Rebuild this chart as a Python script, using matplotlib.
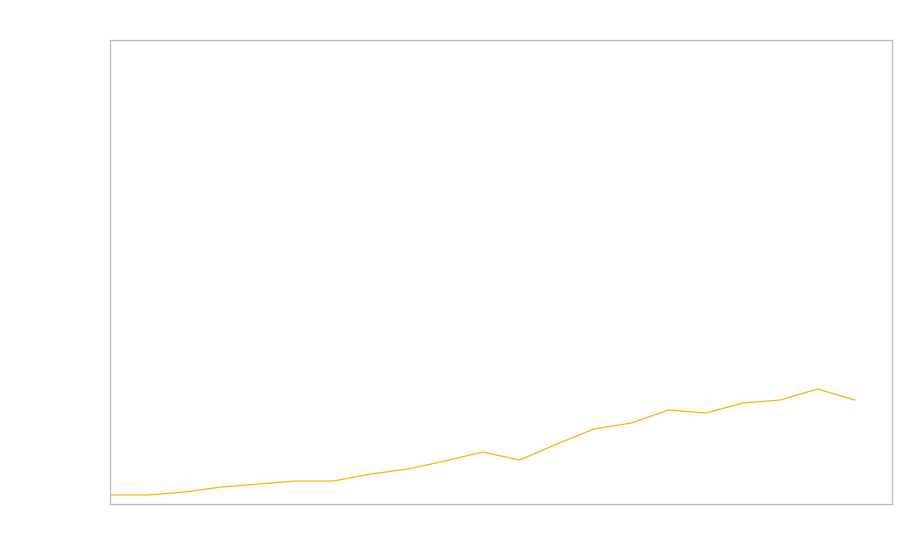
import matplotlib
matplotlib.use("Agg")
import matplotlib.pyplot as plt

# one series, no labels shown on the chart
periods = list(range(21))
values = [9, 9, 12, 17, 20, 23, 23, 30, 35, 43, 52, 44, 60, 75, 81, 94, 91, 101, 104, 115, 104]

fig = plt.figure(figsize=(9, 5.6), dpi=100)
ax = fig.add_axes([110 / 900, 56 / 560, 782 / 900, 464 / 560])

ax.plot(periods, values, color="#FFB300", linewidth=0.9)

ax.set_xlim(0, 21)
ax.set_ylim(0, 464)
ax.set_xticks([])
ax.set_yticks([])
for s in ax.spines.values():
    s.set_color("#bbbbbb")
    s.set_linewidth(0.9)

fig.savefig("out.png", dpi=100)
